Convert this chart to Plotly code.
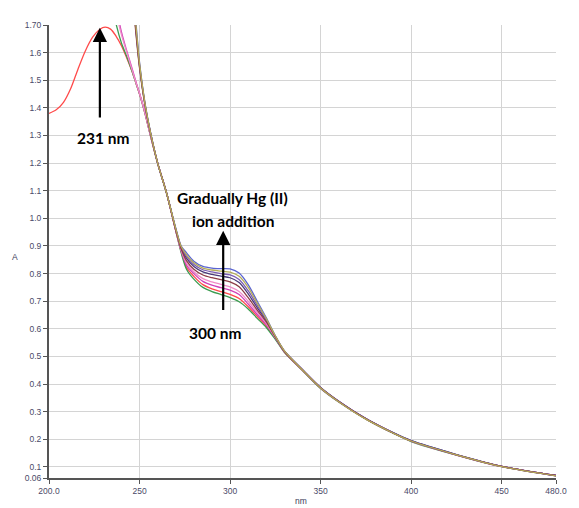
import plotly.graph_objects as go

# ---------------- data ----------------
wl_red = [200, 204, 208, 212, 216, 220, 224, 228, 231, 234, 237, 240, 243, 246, 248, 250,
          253, 256, 260, 265, 270, 273, 276, 280, 285, 290, 295, 300, 305, 310, 315, 320,
          325, 330, 340, 350, 360, 375, 390, 400, 425, 450, 480]
red = [1.38, 1.393, 1.42, 1.47, 1.54, 1.605, 1.655, 1.684, 1.692, 1.685, 1.66, 1.625, 1.58, 1.53, 1.49, 1.45,
       1.38, 1.30, 1.20, 1.09, 0.955, 0.88, 0.822, 0.79, 0.76, 0.745, 0.735, 0.725, 0.71, 0.68, 0.645, 0.61,
       0.565, 0.516, 0.45, 0.386, 0.337, 0.274, 0.223, 0.194, 0.144, 0.102, 0.069]

wl_mid = [228, 231, 234, 237, 240, 243, 246, 248, 250, 253, 256, 260, 265, 270, 273, 276,
          280, 285, 290, 295, 300, 305, 310, 315, 320, 325, 330, 340, 350, 360, 375, 390,
          400, 425, 450, 480]
green = [2.05, 1.92, 1.80, 1.705, 1.635, 1.585, 1.53, 1.49, 1.45, 1.38, 1.30, 1.20, 1.09, 0.955, 0.875, 0.815,
         0.78, 0.75, 0.735, 0.724, 0.713, 0.698, 0.672, 0.638, 0.605, 0.562, 0.515, 0.449, 0.384, 0.335, 0.273, 0.222,
         0.192, 0.143, 0.101, 0.068]
magenta = [2.2, 2.04, 1.89, 1.77, 1.675, 1.605, 1.54, 1.495, 1.453, 1.383, 1.302, 1.20, 1.09, 0.956, 0.882, 0.83,
           0.80, 0.772, 0.758, 0.749, 0.740, 0.724, 0.69, 0.652, 0.615, 0.567, 0.517, 0.450, 0.385, 0.336, 0.274, 0.223,
           0.193, 0.143, 0.101, 0.068]
pink = [2.15, 2.0, 1.86, 1.75, 1.665, 1.60, 1.535, 1.492, 1.452, 1.382, 1.302, 1.20, 1.09, 0.957, 0.885, 0.838,
        0.807, 0.782, 0.77, 0.761, 0.752, 0.735, 0.70, 0.66, 0.62, 0.569, 0.518, 0.451, 0.387, 0.338, 0.275, 0.224,
        0.194, 0.144, 0.102, 0.069]

wl_dark = [243, 246, 248, 250, 253, 256, 260, 265, 270, 273, 276, 280, 285, 290, 295, 300,
           305, 310, 315, 320, 325, 330, 340, 350, 360, 375, 390, 400, 425, 450, 480]
maroon = [2.15, 1.83, 1.67, 1.545, 1.41, 1.31, 1.20, 1.09, 0.958, 0.89, 0.846, 0.816, 0.795, 0.785, 0.778, 0.77,
          0.752, 0.713, 0.668, 0.625, 0.571, 0.518, 0.451, 0.386, 0.337, 0.274, 0.223, 0.194, 0.144, 0.102, 0.069]
darkpurple = [2.17, 1.84, 1.68, 1.55, 1.412, 1.31, 1.20, 1.09, 0.96, 0.893, 0.855, 0.826, 0.806, 0.797, 0.791, 0.785,
              0.768, 0.727, 0.677, 0.63, 0.572, 0.519, 0.452, 0.388, 0.338, 0.275, 0.224, 0.195, 0.145, 0.102, 0.069]
purple = [2.18, 1.85, 1.69, 1.555, 1.414, 1.312, 1.20, 1.09, 0.962, 0.896, 0.862, 0.833, 0.814, 0.806, 0.80, 0.795,
          0.779, 0.738, 0.685, 0.633, 0.573, 0.519, 0.452, 0.387, 0.337, 0.274, 0.223, 0.194, 0.144, 0.102, 0.069]
olive = [2.2, 1.86, 1.70, 1.56, 1.416, 1.312, 1.20, 1.09, 0.963, 0.898, 0.868, 0.839, 0.82, 0.813, 0.809, 0.805,
         0.79, 0.75, 0.693, 0.637, 0.574, 0.52, 0.451, 0.386, 0.336, 0.273, 0.223, 0.194, 0.144, 0.101, 0.068]
blue = [2.22, 1.87, 1.71, 1.565, 1.418, 1.314, 1.20, 1.09, 0.965, 0.90, 0.875, 0.845, 0.826, 0.82, 0.818, 0.817,
        0.802, 0.76, 0.70, 0.64, 0.575, 0.52, 0.452, 0.387, 0.338, 0.275, 0.224, 0.195, 0.145, 0.102, 0.069]

x_ticks = [200, 250, 300, 350, 400, 450, 480]
x_ticktext = ["200.0", "250", "300", "350", "400", "450", "480.0"]
y_ticks = [0.06, 0.1, 0.2, 0.3, 0.4, 0.5, 0.6, 0.7, 0.8, 0.9, 1.0, 1.1, 1.2, 1.3, 1.4, 1.5, 1.6, 1.70]
y_ticktext = ["0.06", "0.1", "0.2", "0.3", "0.4", "0.5", "0.6", "0.7", "0.8", "0.9", "1.0",
              "1.1", "1.2", "1.3", "1.4", "1.5", "1.6", "1.70"]

series = [
    (wl_red, red, "#ff4a4a"),
    (wl_mid, green, "#3c9c50"),
    (wl_mid, magenta, "#d040b8"),
    (wl_mid, pink, "#f08cc8"),
    (wl_dark, blue, "#5a64d2"),
    (wl_dark, darkpurple, "#4a3a78"),
    (wl_dark, purple, "#7b5cb4"),
    (wl_dark, maroon, "#8c3c46"),
    (wl_dark, olive, "#b4ac58"),
]

fig = go.Figure()
for xs, ys, col in series:
    fig.add_trace(go.Scatter(x=xs, y=ys, mode="lines",
                             line=dict(color=col, width=1.3, shape="spline", smoothing=0.8),
                             showlegend=False, hoverinfo="skip"))

tick_font = dict(family="Liberation Sans", size=8.5, color="#4a4a68")
# the page body adds an 8px margin, so the figure is drawn 8px smaller
fig.update_layout(
    width=571, height=500,
    margin=dict(l=41, r=15, t=13, b=29),
    paper_bgcolor="white", plot_bgcolor="white",
    xaxis=dict(range=[200, 480], tickvals=x_ticks, ticktext=x_ticktext,
               showgrid=True, gridcolor="#d4d4d4", gridwidth=1.2,
               showline=True, linecolor="#555555", linewidth=2,
               ticks="outside", ticklen=4, tickcolor="#555555", tickfont=tick_font,
               zeroline=False),
    yaxis=dict(range=[0.06, 1.70], tickvals=y_ticks, ticktext=y_ticktext,
               showgrid=True, gridcolor="#d4d4d4", gridwidth=1.2,
               showline=True, linecolor="#555555", linewidth=2,
               ticks="outside", ticklen=4, tickcolor="#555555", tickfont=tick_font,
               zeroline=False),
)

# axis titles
fig.add_annotation(text="A", xref="paper", yref="paper", x=-0.068, y=0.487, showarrow=False,
                   font=dict(family="Liberation Sans", size=8.5, color="#3a3a58"), xanchor="center", yanchor="middle")
fig.add_annotation(text="nm", xref="paper", yref="paper", x=0.498, y=-0.050, showarrow=False,
                   font=dict(family="Liberation Sans", size=8.5, color="#3a3a58"), xanchor="center", yanchor="middle")

# arrows
fig.add_annotation(x=228.1, y=1.69, ax=228.1, ay=1.36, xref="x", yref="y", axref="x", ayref="y",
                   text="", showarrow=True, arrowhead=2, arrowsize=1.3, arrowwidth=2.2, arrowcolor="black")
fig.add_annotation(x=296.2, y=0.955, ax=296.2, ay=0.663, xref="x", yref="y", axref="x", ayref="y",
                   text="", showarrow=True, arrowhead=2, arrowsize=1.3, arrowwidth=2.2, arrowcolor="black")

lab_font = dict(family="Lato", size=15.5, color="black")
fig.add_annotation(x=229.9, y=1.29, xref="x", yref="y", text="<b>231 nm</b>", showarrow=False, font=lab_font)
fig.add_annotation(x=301.1, y=1.075, xref="x", yref="y", text="<b>Gradually Hg (II)</b>", showarrow=False, font=lab_font)
fig.add_annotation(x=301.4, y=0.989, xref="x", yref="y", text="<b>ion addition</b>", showarrow=False, font=lab_font)
fig.add_annotation(x=291.9, y=0.584, xref="x", yref="y", text="<b>300 nm</b>", showarrow=False, font=lab_font)

fig.write_html("out.html")
